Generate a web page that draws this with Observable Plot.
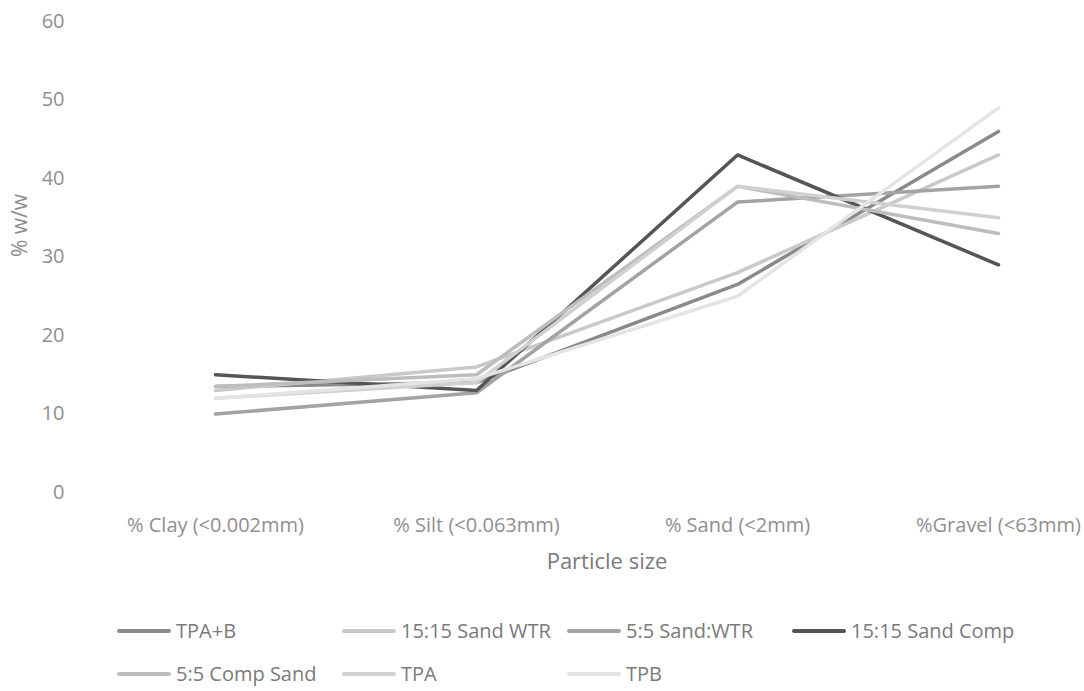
<!DOCTYPE html>
<html>
<head>
<meta charset="utf-8">
<script src="https://cdn.jsdelivr.net/npm/d3@7"></script>
<script src="https://cdn.jsdelivr.net/npm/@observablehq/plot@0.6"></script>
<style>
  body { margin: 0; background: #fff; font-family: "Open Sans", sans-serif; }
  #legend { display: flex; flex-wrap: wrap; width: 1084px; box-sizing: border-box; padding-left: 117px; }
  .item { width: 225px; height: 43px; display: flex; align-items: center; font-size: 20px; color: #7a7a7a; white-space: nowrap; }
  .item svg { margin-right: 5px; flex: none; }
</style>
</head>
<body>
<div id="chart"></div>
<div id="legend"></div>
<script>
// Particle size classes along the x axis
const categories = ["% Clay (<0.002mm)", "% Silt (<0.063mm)", "% Sand (<2mm)", "%Gravel (<63mm)"];
const yTicks = [0, 10, 20, 30, 40, 50, 60];

// Series names, in legend order
const seriesNames = ["TPA+B", "15:15 Sand WTR", "5:5 Sand:WTR", "15:15 Sand Comp", "5:5 Comp Sand", "TPA", "TPB"];
const seriesColors = ["#8a8a8a", "#c9c9c9", "#a3a3a3", "#555555", "#bdbdbd", "#d0d0d0", "#e4e4e4"];

// % w/w per class (clay, silt, sand, gravel)
const tpaB          = [13.5, 14,   26.5, 46];
const sandWtr1515   = [13,   16,   28,   43];
const sandWtr55     = [10,   12.7, 37,   39];
const sandComp1515  = [15,   13,   43,   29];
const compSand55    = [13.5, 15,   39,   33];
const tpa           = [12,   14,   39,   35];
const tpb           = [12,   14.5, 25,   49];

const seriesValues = [tpaB, sandWtr1515, sandWtr55, sandComp1515, compSand55, tpa, tpb];

const rows = seriesNames.flatMap((name, i) =>
  categories.map((c, j) => ({series: name, category: c, value: seriesValues[i][j]}))
);

const chart = Plot.plot({
  width: 1084,
  height: 609,
  marginTop: 21,
  marginBottom: 117,
  marginLeft: 215,
  marginRight: 86,
  style: {fontFamily: "'Open Sans', sans-serif", background: "#fff", color: "#8f8f8f", overflow: "visible"},
  x: {type: "point", domain: categories, padding: 0},
  y: {domain: [0, 60]},
  color: {domain: seriesNames, range: seriesColors},
  marks: [
    Plot.axisY({ticks: yTicks, tickSize: 0, tickPadding: 151, label: null, fontSize: 20}),
    Plot.axisX({tickSize: 0, tickPadding: 25, label: null, fontSize: 20}),
    Plot.text(["% w/w"], {frameAnchor: "left", rotate: -90, dx: -195, fontSize: 21, fill: "#8c8c8c"}),
    Plot.text(["Particle size"], {frameAnchor: "bottom", dy: 76, fontSize: 22, fill: "#7a7a7a"}),
    Plot.lineY(rows, {
      x: "category", y: "value", z: "series", stroke: "series",
      strokeWidth: 3.5, strokeLinecap: "round", strokeLinejoin: "round"
    })
  ]
});
document.getElementById("chart").append(chart);

// Line-swatch legend, four entries per row
const legend = d3.select("#legend");
seriesNames.forEach((name, i) => {
  const item = legend.append("div").attr("class", "item");
  const svg = item.append("svg").attr("width", 54).attr("height", 10);
  svg.append("line").attr("x1", 2).attr("x2", 52).attr("y1", 5).attr("y2", 5)
    .attr("stroke", seriesColors[i]).attr("stroke-width", 4).attr("stroke-linecap", "round");
  item.append("span").text(name);
});
</script>
</body>
</html>
